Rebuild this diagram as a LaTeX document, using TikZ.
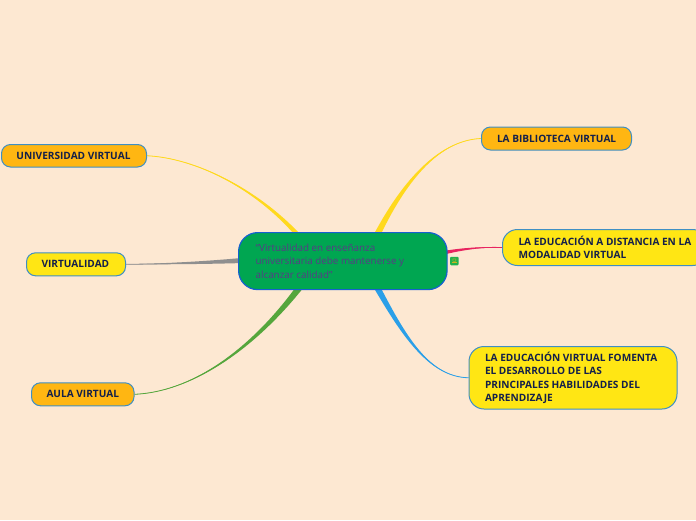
\documentclass[tikz,border=0pt]{standalone}
\usepackage{fontspec}
\setmainfont{Open Sans}
\usetikzlibrary{calc,backgrounds}
\definecolor{bgc}{HTML}{FDE8D2}
\definecolor{orangec}{HTML}{FFB612}
\definecolor{yellowc}{HTML}{FFE614}
\definecolor{edgec}{HTML}{3F8FC4}
\definecolor{navyc}{HTML}{14204A}
\definecolor{centerc}{HTML}{00A651}
\definecolor{centeredge}{HTML}{1560D0}
\definecolor{centertext}{HTML}{5A3A86}
\definecolor{lineyellow}{HTML}{FFD91E}
\definecolor{linepink}{HTML}{E8245F}
\definecolor{lineblue}{HTML}{2A9FE8}
\definecolor{linegreen}{HTML}{55A63C}
\definecolor{linegrey}{HTML}{8F8F8F}
\definecolor{iconc}{HTML}{22B14C}
\tikzset{
  box/.style={draw=edgec,line width=1pt,text=navyc,font=\fontsize{10.1}{13.3}\selectfont\bfseries,inner sep=0pt,anchor=north west,align=left},
  orangebox/.style={box,fill=orangec,rounded corners=9pt},
  yellowbox/.style={box,fill=yellowc,rounded corners=9pt},
  bigbox/.style={box,fill=yellowc,rounded corners=15pt},
  centerbox/.style={draw=centeredge,line width=1.2pt,fill=centerc,rounded corners=19pt,text=centertext,font=\fontsize{9.85}{13.3}\selectfont,inner sep=0pt,anchor=north west,align=left},
  iconbox/.style={fill=iconc,rounded corners=1pt,minimum width=8.5pt,minimum height=8.5pt,inner sep=0pt},
}
% style, name, position, width, height, left padding, text
\newcommand{\sizedbox}[7]{%
  \node[#1,minimum width=#4pt,minimum height=#5pt] (#2) at (#3) {\hspace*{#6pt}\parbox{\dimexpr#4pt-#6pt\relax}{\raggedright #7}};}
% colour, tip, control 1, control 2, base A, base B
\newcommand{\taper}[6]{%
  \fill[#1] (#2) .. controls ($(#3)+0.08*(#5)-0.08*(#6)$) and ($(#4)+0.25*(#5)-0.25*(#6)$) .. (#5)
     -- (#6) .. controls ($(#4)-0.25*(#5)+0.25*(#6)$) and ($(#3)-0.08*(#5)+0.08*(#6)$) .. (#2) -- cycle;
  \draw[#1,line width=.8pt] (#2) .. controls (#3) and (#4) .. ($(#5)!.5!(#6)$);}
\begin{document}
\begin{tikzpicture}[x=1pt,y=-1pt]
\useasboundingbox (0,0) rectangle (696,520);
\clip (0,0) rectangle (696,520);

\sizedbox{centerbox}{main}{238,232}{208.5}{57}{17}{``Virtualidad en enseñanza\\universitaria debe mantenerse y\\alcanzar calidad''}
\sizedbox{orangebox}{uni}{1,144}{145}{22.5}{15}{UNIVERSIDAD VIRTUAL}
\sizedbox{yellowbox}{vir}{26,252.3}{99}{23}{15}{VIRTUALIDAD}
\sizedbox{orangebox}{aula}{31,382.3}{102.5}{23}{15}{AULA VIRTUAL}
\sizedbox{orangebox}{bib}{481,126.5}{150}{23}{15.5}{LA BIBLIOTECA VIRTUAL}
\sizedbox{bigbox}{dist}{502,229}{205}{36}{16}{LA EDUCACIÓN A DISTANCIA EN LA\\MODALIDAD VIRTUAL}
\sizedbox{bigbox}{fom}{468.5,346}{208}{62.5}{16}{LA EDUCACIÓN VIRTUAL FOMENTA\\EL DESARROLLO DE LAS\\PRINCIPALES HABILIDADES DEL\\APRENDIZAJE}

\node[iconbox] (icon) at (454.3,261) {};
\draw[orangec!70!centerc,line width=.6pt,rounded corners=.5pt] ($(icon.center)+(-1.5,-2.2)$) rectangle ($(icon.center)+(1.5,.3)$);
\draw[orangec!80!centerc,line width=.7pt] ($(icon.center)+(-2.8,1.6)$) -- ($(icon.center)+(2.8,1.6)$);

\coordinate (ua) at ($(main.north west)+(56,2)$);
\coordinate (ub) at ($(main.north west)+(62,2)$);
\coordinate (ba) at ($(main.north west)+(136,2)$);
\coordinate (bb) at ($(main.north west)+(143,2)$);
\coordinate (va) at ($(main.west)+(2,-3)$);
\coordinate (vb) at ($(main.west)+(2,2)$);
\coordinate (aa) at ($(main.south west)+(57,-2)$);
\coordinate (ab) at ($(main.south west)+(65,-2)$);
\coordinate (la) at ($(main.south west)+(136,-2)$);
\coordinate (lb) at ($(main.south west)+(143,-2)$);
\coordinate (da) at ($(main.east)+(-2,-10.5)$);
\coordinate (db) at ($(main.east)+(-2,-7)$);

\begin{scope}[on background layer]
\fill[bgc] (0,0) rectangle (696,520);
\taper{lineyellow}{uni.east}{195,158}{255,188}{ua}{ub}
\taper{lineyellow}{bib.west}{445,140}{410,170}{ba}{bb}
\taper{linegrey}{vir.east}{160,264}{200,263}{va}{vb}
\taper{linegreen}{aula.east}{190,392}{250,352}{aa}{ab}
\taper{lineblue}{fom.west}{430,377}{405,338}{la}{lb}
\taper{linepink}{dist.west}{485,247}{468,248}{da}{db}
\end{scope}
\end{tikzpicture}
\end{document}
